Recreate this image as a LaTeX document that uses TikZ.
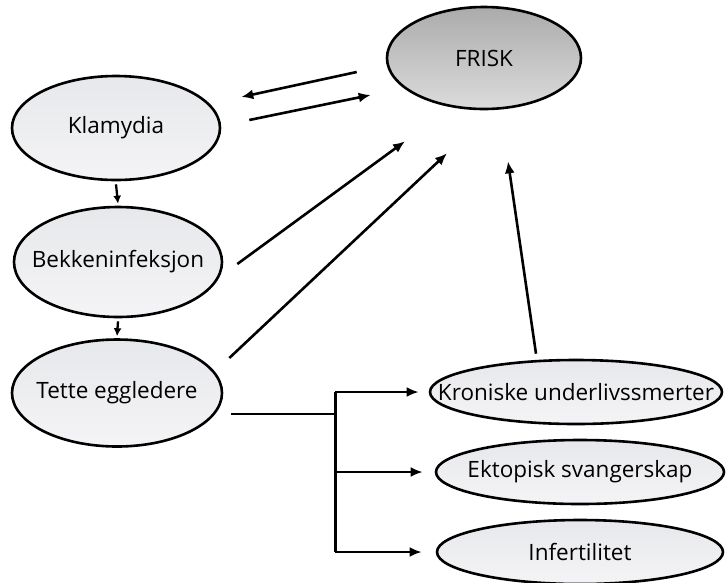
\documentclass[tikz,border=0pt]{standalone}
\usepackage{fontspec}
\setmainfont{Open Sans}
\usetikzlibrary{shapes.geometric,arrows.meta}
\definecolor{darkTop}{HTML}{ABABAB}
\definecolor{darkMid}{HTML}{C2C2C2}
\definecolor{darkBot}{HTML}{DCDCDC}
\definecolor{lightTop}{HTML}{E7E8EB}
\definecolor{lightMid}{HTML}{DDDFE4}
\definecolor{lightBot}{HTML}{F4F4F6}
\begin{document}
\begin{tikzpicture}[x=1pt,y=1pt,
  bub/.style={ellipse, draw=black, line width=2.6pt, inner sep=0pt,
    top color=lightTop, middle color=lightMid, bottom color=lightBot},
  darkbub/.style={bub, top color=darkTop, middle color=darkMid, bottom color=darkBot},
  txt/.style={font=\fontsize{22.5}{26}\selectfont, text=black, inner sep=0pt},
  arr/.style={line width=2.6pt, -{Latex[length=12pt,width=10pt]}},
  smallarr/.style={line width=2.3pt, -{Latex[length=8pt,width=8pt]}},
  plain/.style={line width=2.6pt}]
\useasboundingbox (0,0) rectangle (727,-582);

% ellipses
\node[darkbub, minimum width=194pt, minimum height=102pt] (frisk) at (484,-58) {};
\node[bub, minimum width=208pt, minimum height=104pt] (kla) at (116,-128) {};
\node[bub, minimum width=208pt, minimum height=110pt] (bek) at (118,-262) {};
\node[bub, minimum width=210pt, minimum height=107pt] (tet) at (117,-393) {};
\node[bub, minimum width=292pt, minimum height=64pt] (kro) at (576,-392) {};
\node[bub, minimum width=288pt, minimum height=64pt] (ekt) at (580,-472) {};
\node[bub, minimum width=286pt, minimum height=64pt] (inf) at (580,-552) {};

% labels
\node[txt] (frisk-t) at (frisk) {FRISK};
\node[txt] (kla-t) at (kla) {Klamydia};
\node[txt] (bek-t) at (bek) {Bekkeninfeksjon};
\node[txt] (tet-t) at (tet) {Tette eggledere};
\node[txt] (kro-t) at (kro) {Kroniske underlivssmerter};
\node[txt] (ekt-t) at (ekt) {Ektopisk svangerskap};
\node[txt] (inf-t) at (inf) {Infertilitet};

% connectors towards and from FRISK
\draw[arr] ([shift={(-29,-14)}]frisk.west) -- ([shift={(20,31)}]kla.east);
\draw[arr] ([shift={(28,8)}]kla.east) -- ([shift={(-15,-37)}]frisk.west);
\draw[arr] ([shift={(14,-2)}]bek.east) -- ([shift={(-79,-31)}]frisk.south);
\draw[arr] ([shift={(6,35)}]tet.east) -- ([shift={(-37,-43)}]frisk.south);
\draw[arr] ([shift={(-40,5)}]kro.north) -- ([shift={(24,-51)}]frisk.south);

% chain down the left column
\draw[smallarr] ([yshift=-3pt]kla.south) -- ([yshift=2pt]bek.north);
\draw[smallarr] ([yshift=-3pt]bek.south) -- ([yshift=2pt]tet.north);

% fork to the consequences
\draw[plain] ([shift={(8,-21)}]tet.east) -- ++(104,0) coordinate (fork);
\draw[plain] (fork |- kro) -- (fork |- inf);
\draw[arr] (fork |- kro) -- ([xshift=-10pt]kro.west);
\draw[arr] (fork |- ekt) -- ([xshift=-12pt]ekt.west);
\draw[arr] (fork |- inf) -- ([xshift=-14pt]inf.west);
\end{tikzpicture}
\end{document}
